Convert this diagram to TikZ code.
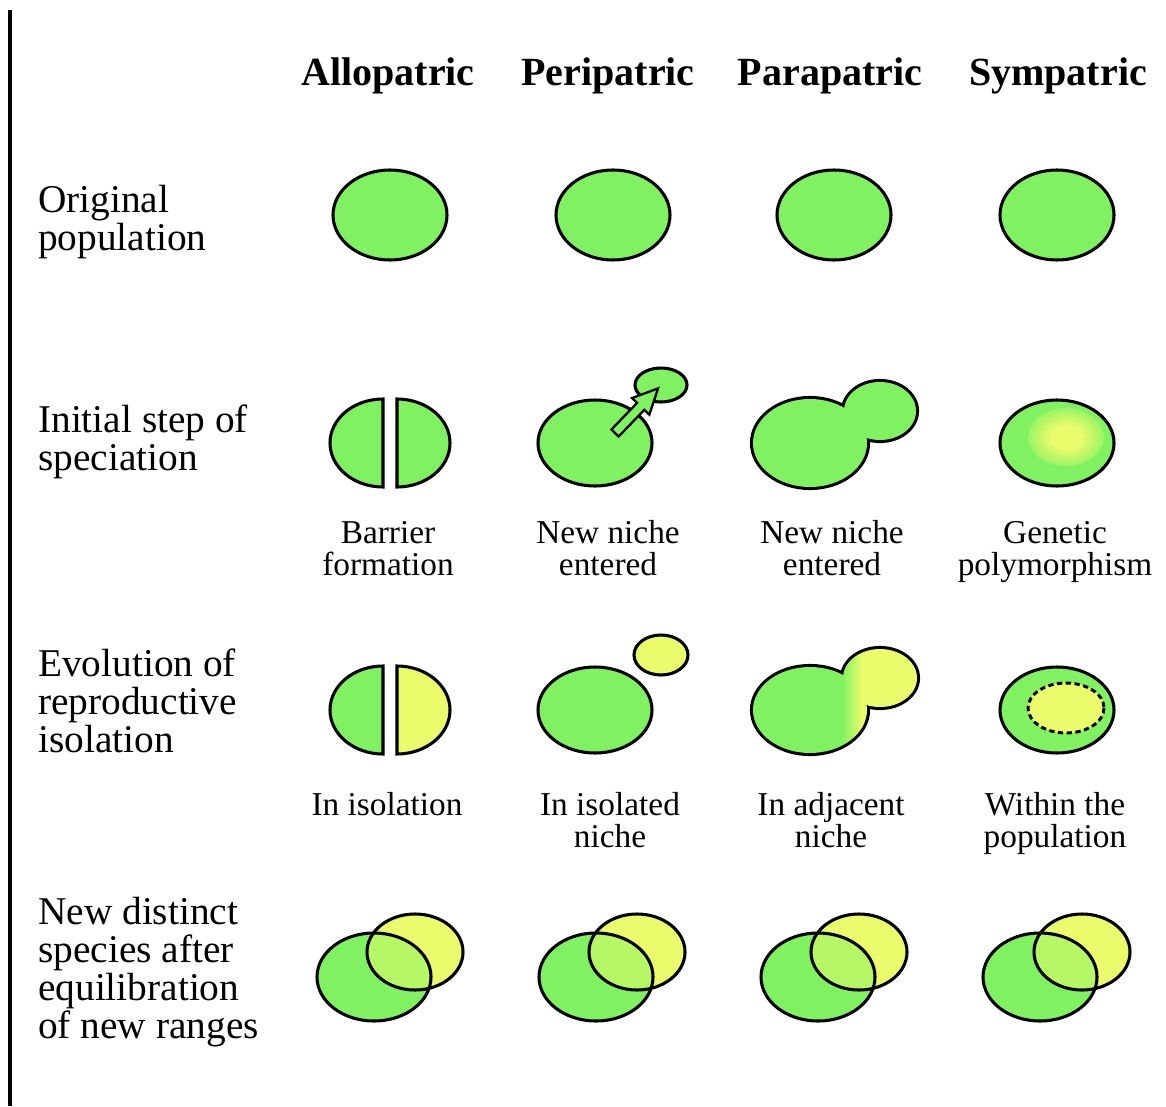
\documentclass[tikz,border=0pt]{standalone}
\usepackage{fontspec}
\setmainfont{Liberation Serif}
\definecolor{grn}{RGB}{128,242,98}
\definecolor{yel}{RGB}{234,251,108}
\definecolor{mix}{RGB}{182,247,102}
\pgfdeclareradialshading{glow}{\pgfpoint{0bp}{0bp}}{color(0bp)=(yel); color(10bp)=(yel); color(30bp)=(grn); color(50bp)=(grn)}
\begin{document}
\begin{tikzpicture}[x=0.75pt,y=-0.75pt,
  ol/.style={draw=black,line width=2.3pt},
  head/.style={font=\fontsize{30}{30}\selectfont\bfseries,inner sep=0pt,anchor=base},
  rowlab/.style={font=\fontsize{29.5}{28.5}\selectfont,inner sep=0pt,anchor=base west,align=left},
  sublab/.style={font=\fontsize{25}{24}\selectfont,inner sep=0pt,anchor=base,align=center}]
\useasboundingbox (0,0) rectangle (1166,1106);
\fill[white] (0,0) rectangle (1166,1106);
% left rule
\draw[line width=2.4pt] (10,10) -- (10,1106);

% headers
\node[head] (h1) at (388,85) {Allopatric};
\node[head] (h2) at (608,85) {Peripatric};
\node[head] (h3) at (830,85) {Parapatric};
\node[head] (h4) at (1058,85) {Sympatric};

% row labels (base = last line)
\node[rowlab] (r1) at (38,250) {Original\\population};
\node[rowlab] (r2) at (38,470) {Initial step of\\speciation};
\node[rowlab] (r3) at (38,752) {Evolution of\\reproductive\\isolation};
\node[rowlab] (r4) at (38,1038) {New distinct\\species after\\equilibration\\of new ranges};

% row 1: original population
\foreach \cx in {390,613,834,1057}
  \filldraw[ol,fill=grn] (\cx,215) ellipse [x radius=57,y radius=45];

% row 2: initial step
% allopatric halves
\filldraw[ol,fill=grn] (383,399) -- (383,487) arc[start angle=90,end angle=270,x radius=53,y radius=44] -- cycle;
\filldraw[ol,fill=grn] (397,487) -- (397,399) arc[start angle=-90,end angle=90,x radius=53,y radius=44] -- cycle;
% peripatric
\filldraw[ol,fill=grn] (595,443) ellipse [x radius=57,y radius=43];
\filldraw[ol,fill=grn] (661,385) ellipse [x radius=26,y radius=17];
\begin{scope}[shift={(615,433)},rotate=46]
  \filldraw[fill=grn,draw=black,line width=1.7pt,line join=miter]
    (0,5) -- (37,5) -- (37,12) -- (62,0) -- (37,-12) -- (37,-5) -- (0,-5) -- cycle;
\end{scope}
% parapatric
\draw[line width=4.6pt] (810,443) ellipse [x radius=57,y radius=44];
\draw[line width=4.6pt] (880,411) ellipse [x radius=36,y radius=29];
\fill[grn] (810,443) ellipse [x radius=57,y radius=44];
\fill[grn] (880,411) ellipse [x radius=36,y radius=29];
% sympatric
\fill[grn] (1057,443) ellipse [x radius=57,y radius=43];
\begin{scope}
  \clip (1057,443) ellipse [x radius=57,y radius=43];
  \shade[shading=glow] (1066,437) ellipse [x radius=38,y radius=29];
\end{scope}
\draw[ol] (1057,443) ellipse [x radius=57,y radius=43];

% row 2 sublabels
\node[sublab] (s21) at (388,575) {Barrier\\formation};
\node[sublab] (s22) at (608,575) {New niche\\entered};
\node[sublab] (s23) at (832,575) {New niche\\entered};
\node[sublab] (s24) at (1055,575) {Genetic\\polymorphism};

% row 3: reproductive isolation
\filldraw[ol,fill=grn] (383,666) -- (383,754) arc[start angle=90,end angle=270,x radius=53,y radius=44] -- cycle;
\filldraw[ol,fill=yel] (397,754) -- (397,666) arc[start angle=-90,end angle=90,x radius=53,y radius=44] -- cycle;
% peripatric
\filldraw[ol,fill=grn] (595,710) ellipse [x radius=57,y radius=43];
\filldraw[ol,fill=yel] (661,655) ellipse [x radius=27,y radius=20];
% parapatric
\draw[line width=4.6pt] (810,710) ellipse [x radius=57,y radius=43];
\draw[line width=4.6pt] (880,678) ellipse [x radius=37,y radius=29];
\begin{scope}
  \clip (810,710) ellipse [x radius=57,y radius=43] (880,678) ellipse [x radius=37,y radius=29];
  \fill[grn] (740,630) rectangle (842,770);
  \shade[left color=grn,right color=yel] (842,630) rectangle (862,770);
  \fill[yel] (862,630) rectangle (930,770);
\end{scope}
% sympatric
\filldraw[ol,fill=grn] (1057,710) ellipse [x radius=57,y radius=43];
\filldraw[fill=yel,draw=black,line width=2.2pt,dash pattern=on 4pt off 2.6pt] (1066,708) ellipse [x radius=38,y radius=25];

% row 3 sublabels
\node[sublab] (s31) at (387,815) {In isolation};
\node[sublab] (s32) at (610,847) {In isolated\\niche};
\node[sublab] (s33) at (831,847) {In adjacent\\niche};
\node[sublab] (s34) at (1055,847) {Within the\\population};

% row 4: new species
\foreach \gx/\yx in {374/415,596/637,818/859,1040/1082}{
  \fill[grn] (\gx,977) ellipse [x radius=57,y radius=44];
  \fill[yel] (\yx,952) ellipse [x radius=48,y radius=38];
  \begin{scope}
    \clip (\gx,977) ellipse [x radius=57,y radius=44];
    \fill[mix] (\yx,952) ellipse [x radius=48,y radius=38];
  \end{scope}
  \draw[ol] (\gx,977) ellipse [x radius=57,y radius=44];
  \draw[ol] (\yx,952) ellipse [x radius=48,y radius=38];
}
\end{tikzpicture}
\end{document}
